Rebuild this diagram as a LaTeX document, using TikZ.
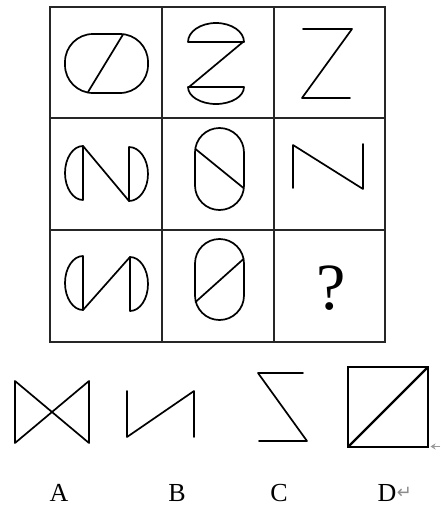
\documentclass[tikz,border=0pt]{standalone}
\usepackage{fontspec}
\setmainfont{Liberation Serif}
\newfontfamily\symfont{DejaVu Sans}
\usetikzlibrary{arrows.meta}
\begin{document}
\begin{tikzpicture}[x=1pt,y=-1pt,
  gridline/.style={line width=1.8pt,black!85},
  fig/.style={line width=1.7pt,black,line join=round,line cap=round},
  lbl/.style={font=\fontsize{26}{26}\selectfont,inner sep=0pt}]
\useasboundingbox[fill=white] (0,0) rectangle (440,506);
% grid
\draw[gridline] (50,7) rectangle (385,342);
\draw[gridline] (162,7) -- (162,342);
\draw[gridline] (274,7) -- (274,342);
\draw[gridline] (50,118) -- (385,118);
\draw[gridline] (50,230) -- (385,230);
% cell 1
\draw[fig,rounded corners=28pt] (65,34) rectangle (148,93);
\draw[fig] (88,92) -- (123,34.5);
% cell 2
\draw[fig] (188,42) -- (244,42) arc[start angle=0,end angle=-180,x radius=28,y radius=19] -- cycle;
\draw[fig] (188,87) -- (244,87) arc[start angle=0,end angle=180,x radius=28,y radius=17] -- cycle;
\draw[fig] (243,42) -- (189,87);
% cell 3
\draw[fig] (303,29) -- (352,29) -- (302,98) -- (350,98);
% cell 4
\draw[fig] (83,146) -- (83,200) arc[start angle=90,end angle=270,x radius=18,y radius=27] -- cycle;
\draw[fig] (129,147) -- (129,201) arc[start angle=90,end angle=-90,x radius=19,y radius=27] -- cycle;
\draw[fig] (83,146) -- (129,201);
% cell 5
\draw[fig,rounded corners=24.5pt] (195,128) rectangle (244,210);
\draw[fig] (195.5,149) -- (243.5,188);
% cell 6
\draw[fig] (293,188) -- (293,145) -- (363,189) -- (363,144);
% cell 7
\draw[fig] (83,256) -- (83,310) arc[start angle=90,end angle=270,x radius=18,y radius=27] -- cycle;
\draw[fig] (130,257) -- (130,311) arc[start angle=90,end angle=-90,x radius=18,y radius=27] -- cycle;
\draw[fig] (83,310) -- (130,257);
% cell 8
\draw[fig,rounded corners=24.5pt] (195,239) rectangle (244,320);
\draw[fig] (195.5,302) -- (243.5,259);
% cell 9
\node[inner sep=0pt,font=\fontsize{66}{66}\selectfont] (q) at (331,288) {?};
% options
\draw[fig] (15,381) -- (89,443) -- (89,381) -- (15,443) -- cycle;
\draw[fig] (127,391) -- (127,437) -- (194,391) -- (194,437);
\draw[fig] (303,373) -- (258,373) -- (307,441) -- (259,441);
\draw[fig,line width=2.3pt,line cap=butt,line join=miter] (348,367) rectangle (428,447);
\draw[fig,line width=2.3pt] (348,447) -- (428,367);
\coordinate (ae) at (440,446.5);
\coordinate (as) at (430.5,446.5);
\draw[black!40,line width=0.8pt,-{Stealth[length=5pt,width=6pt]}] (ae) -- (as);
% labels
\node[lbl] (la) at (59,493) {A};
\node[lbl] (lb) at (177,493) {B};
\node[lbl] (lc) at (279,493) {C};
\node[lbl] (ld) at (387,493) {D};
\node[inner sep=0pt,anchor=west,text=black!45,font=\symfont\fontsize{18}{18}\selectfont] (ret) at (ld.east) {↵};
\end{tikzpicture}
\end{document}
